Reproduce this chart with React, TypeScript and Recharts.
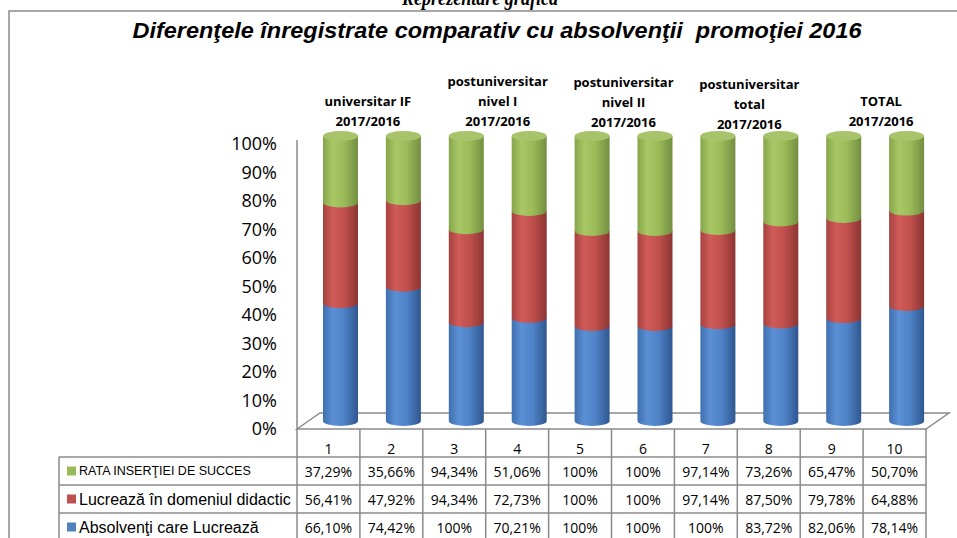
import React from 'react';
import { BarChart, Bar, XAxis, YAxis } from 'recharts';

const categories = ['1', '2', '3', '4', '5', '6', '7', '8', '9', '10'];
const rataInsertiei = [37.29, 35.66, 94.34, 51.06, 100, 100, 97.14, 73.26, 65.47, 50.7];
const lucreazaDidactic = [56.41, 47.92, 94.34, 72.73, 100, 100, 97.14, 87.5, 79.78, 64.88];
const absolventiLucreaza = [66.1, 74.42, 100, 70.21, 100, 100, 100, 83.72, 82.06, 78.14];
const yTicks = [0, 0.1, 0.2, 0.3, 0.4, 0.5, 0.6, 0.7, 0.8, 0.9, 1];
const seriesNames = ['RATA INSERŢIEI DE SUCCES', 'Lucrează în domeniul didactic', 'Absolvenţi care Lucrează'];
const groupLabels = [
  ['universitar IF', '2017/2016'],
  ['postuniversitar', 'nivel I', '2017/2016'],
  ['postuniversitar', 'nivel II', '2017/2016'],
  ['postuniversitar', 'total', '2017/2016'],
  ['TOTAL', '2017/2016'],
];
const chartTitle = 'Diferenţele înregistrate comparativ cu absolvenţii  promoţiei 2016';
const pageTitle = 'Reprezentare grafică';

const data = categories.map((c, i) => ({
  cat: c,
  abs: absolventiLucreaza[i],
  did: lucreazaDidactic[i],
  rata: rataInsertiei[i],
}));

const W = 957;
const H = 538;
const PL = 297;
const PR = 926;
const PT = 143;
const PB = 428;
const colW = (PR - PL) / categories.length;
const DX = 12;
const DY = -7;
const RY = 5;
const LINE = '#8a8a8a';
const FONT = '"Open Sans", "Liberation Sans", Arial, sans-serif';

const fmt = (v: number) => (Number.isInteger(v) ? `${v}%` : `${v.toFixed(2).replace('.', ',')}%`);

const makeCylinder = (gradId: string, isTop: boolean, capFill: string) => (props: any) => {
  const { x, y, width, height } = props;
  if (!height || height <= 0) return <g />;
  const X = x + DX;
  const Y = y + DY;
  const rx = width / 2;
  const d = `M ${X} ${Y} L ${X} ${Y + height} A ${rx} ${RY} 0 0 0 ${X + width} ${Y + height} L ${X + width} ${Y} Z`;
  return (
    <g>
      <path d={d} fill={`url(#${gradId})`} />
      {isTop && <ellipse cx={X + rx} cy={Y} rx={rx} ry={RY} fill={capFill} />}
    </g>
  );
};

const Grad = ({ id, stops }: { id: string; stops: string[] }) => (
  <linearGradient id={id} x1="0" y1="0" x2="1" y2="0">
    <stop offset="0%" stopColor={stops[0]} />
    <stop offset="28%" stopColor={stops[1]} />
    <stop offset="60%" stopColor={stops[2]} />
    <stop offset="100%" stopColor={stops[3]} />
  </linearGradient>
);

const legendColors = ['#9BBB59', '#C0504D', '#4F81BD'];
const rows = [rataInsertiei, lucreazaDidactic, absolventiLucreaza];

export default function App() {
  const rowTop = [457, 485, 513];
  const groupYs: Record<number, number[]> = { 2: [101, 121], 3: [81, 101, 121] };
  const groupDy = [0, 0, 1, 3, 0];
  return (
    <div style={{ position: 'absolute', left: 0, top: 0, width: W, height: H, background: '#fff', overflow: 'hidden' }}>
      <svg width={W} height={H} style={{ position: 'absolute', left: 0, top: 0 }}>
        <defs>
          <Grad id="gBlue" stops={['#3f6fae', '#5b90d5', '#4f82c6', '#2f5790']} />
          <Grad id="gRed" stops={['#a6423f', '#d05b58', '#c0504d', '#8c3533']} />
          <Grad id="gGreen" stops={['#86a54a', '#a8c866', '#9bbb59', '#738e41']} />
        </defs>
        <path d={`M ${W} 11 H 9 V ${H}`} fill="none" stroke={LINE} strokeWidth={1.5} />
        <text x={480} y={5} textAnchor="middle" fontFamily='"Liberation Serif", "Times New Roman", serif' fontWeight="bold" fontStyle="italic" fontSize={21} textLength={156} lengthAdjust="spacingAndGlyphs">{pageTitle}</text>
        <text x={497} y={38} textAnchor="middle" fontFamily='"Liberation Sans", Arial, sans-serif' fontWeight="bold" fontStyle="italic" fontSize={22} textLength={729} lengthAdjust="spacingAndGlyphs" style={{ whiteSpace: 'pre' }}>{chartTitle}</text>
        {/* axis line and floor */}
        <line x1={PL} y1={140} x2={PL} y2={430} stroke={LINE} strokeWidth={1.5} />
        <path d={`M ${PL} ${PB + 1} L ${PL + 23} ${PB - 15} L ${PR + 23} ${PB - 15} L ${PR} ${PB + 1} Z`} fill="none" stroke={LINE} strokeWidth={1.5} />
        {/* y tick labels */}
        {yTicks.map((t) => (
          <text key={t} x={277} y={PB - (PB - PT) * t} textAnchor="end" dominantBaseline="central" fontFamily={FONT} fontSize={18} fill="#000">{`${Math.round(t * 100)}%`}</text>
        ))}
        {/* group labels */}
        {groupLabels.map((lines, g) => {
          const cx = PL + colW * (2 * g + 1) + DX - (g === 0 ? 4 : 0) + (g === 4 ? 6 : 0);
          const ys = groupYs[lines.length];
          return lines.map((ln, k) => (
            <text key={`${g}-${k}`} x={cx} y={ys[k] + groupDy[g]} textAnchor="middle" dominantBaseline="central" fontFamily={FONT} fontWeight="bold" fontSize={13} fill="#000">{ln}</text>
          ));
        })}
        {/* data table */}
        {categories.map((c, i) => (
          <text key={c} x={PL + colW * (i + 0.5)} y={448} textAnchor="middle" dominantBaseline="central" fontFamily={FONT} fontSize={14} fill="#000">{c}</text>
        ))}
        {Array.from({ length: categories.length + 1 }).map((_, i) => (
          <line key={i} x1={PL + colW * i} y1={PB + 1} x2={PL + colW * i} y2={H} stroke={LINE} strokeWidth={1.5} />
        ))}
        <line x1={59} y1={457} x2={59} y2={H} stroke={LINE} strokeWidth={1.5} />
        {rowTop.map((y) => (
          <line key={y} x1={59} y1={y} x2={PR} y2={y} stroke={LINE} strokeWidth={1.5} />
        ))}
        {rows.map((vals, r) => (
          <g key={r}>
            <rect x={67} y={rowTop[r] + 14 - 4.5} width={9} height={9} fill={legendColors[r]} />
            <text x={79} y={rowTop[r] + 14} dominantBaseline="central" fontFamily='"Liberation Sans", Arial, sans-serif' fontSize={r === 0 ? 12.5 : 16} fill="#000">{seriesNames[r]}</text>
            {vals.map((v, i) => (
              <text key={i} x={PL + colW * (i + 0.5)} y={rowTop[r] + 14} textAnchor="middle" dominantBaseline="central" fontFamily={FONT} fontSize={14} fill="#000">{fmt(v)}</text>
            ))}
          </g>
        ))}
      </svg>
      <div style={{ position: 'absolute', left: 0, top: 0 }}>
        <BarChart width={W} height={H} data={data} stackOffset="expand" margin={{ top: PT, right: W - PR, bottom: H - PB, left: PL }} barSize={35}>
          <XAxis dataKey="cat" hide />
          <YAxis hide domain={[0, 1]} ticks={yTicks} />
          <Bar dataKey="abs" stackId="s" fill="#4F81BD" isAnimationActive={false} shape={makeCylinder('gBlue', false, '')} />
          <Bar dataKey="did" stackId="s" fill="#C0504D" isAnimationActive={false} shape={makeCylinder('gRed', false, '')} />
          <Bar dataKey="rata" stackId="s" fill="#9BBB59" isAnimationActive={false} shape={makeCylinder('gGreen', true, '#a7c46b')} />
        </BarChart>
      </div>
    </div>
  );
}
